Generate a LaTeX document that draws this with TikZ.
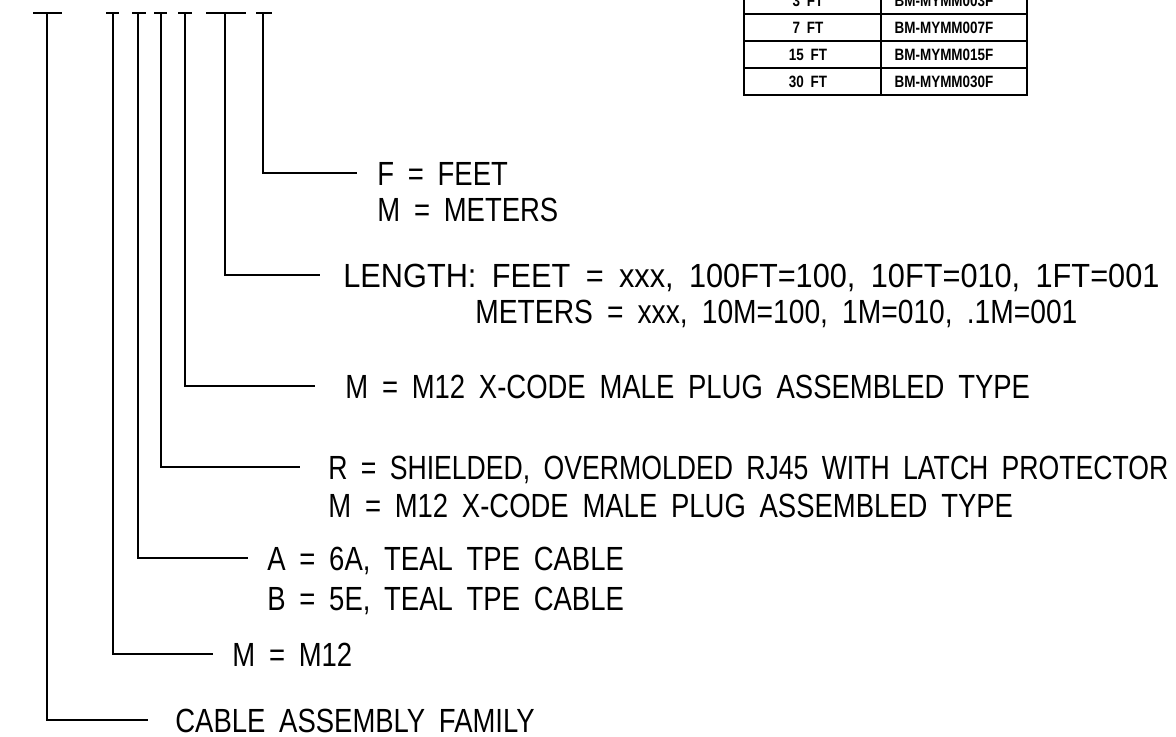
\documentclass[tikz,border=0pt]{standalone}
\usepackage{fontspec}
\setmainfont{Liberation Sans}[FakeStretch=0.82, WordSpace=1.8]
\usepackage{graphicx}
\usepackage{tikz}
\usetikzlibrary{positioning}
\usetikzlibrary{calc}

% Zeile auf feste Breite bringen (Hoehe bleibt)
\newcommand{\fitto}[2]{\resizebox{#1}{\height}{#2}}

\begin{document}
\begin{tikzpicture}[x=0.5pt, y=-0.5pt,
    lead/.style={line width=1.1pt},
    lbl/.style={font=\fontsize{16.75}{20}\selectfont, inner sep=0pt, anchor=base west},
    cell/.style={font=\fontsize{8.2}{10}\selectfont\bfseries, inner sep=0pt}]
    \useasboundingbox (0,0) rectangle (1176,736);

    % Stege der Bestellnummer
    \foreach \n/\x/\a/\b/\y/\e in {1/47/33/62/720/148, 2/113/106/119/654/213,
        3/138/132/146/558/248, 4/161/154/167/467/300, 5/185/178/192/386/315,
        6/225/206/246/275/320, 7/263/256/272/173/357} {
      \draw[lead] (\a,13) -- (\b,13);
      \coordinate (t\n) at (\x,13);
      \coordinate (k\n) at (\x,\y);
      \coordinate (e\n) at (\e,\y);
      \draw[lead] (t\n) -- (k\n) -- (e\n);
    }

    % Beschriftungen
    \node[lbl] (fam) at (175,732) {CABLE ASSEMBLY FAMILY};
    \node[lbl] (m12) at (232,666) {M = M12};
    \node[lbl] (cabA) at (267,570) {A = 6A, TEAL TPE CABLE};
    \node[lbl] (cabB) at (267,610) {B = 5E, TEAL TPE CABLE};
    \node[lbl] (conR) at (328,479) {\fitto{420pt}{R = SHIELDED, OVERMOLDED RJ45 WITH LATCH PROTECTOR}};
    \node[lbl] (conM) at (328,517) {M = M12 X-CODE MALE PLUG ASSEMBLED TYPE};
    \node[lbl] (plug) at (345,398) {M = M12 X-CODE MALE PLUG ASSEMBLED TYPE};
    \node[lbl] (lenF) at (343,287) {\fitto{408pt}{LENGTH: FEET = xxx, 100FT=100, 10FT=010, 1FT=001}};
    \node[lbl] (lenM) at (475,323) {\fitto{301pt}{METERS = xxx, 10M=100, 1M=010, .1M=001}};
    \node[lbl] (unF) at (377,185) {F = FEET};
    \node[lbl] (unM) at (377,221) {M = METERS};

    % Tabelle
    \draw[line width=1.2pt] (744,-20) rectangle (1027,95);
    \draw[line width=1.2pt] (881,-20) -- (881,95);
    \foreach \y in {14,41,68} {
      \draw[line width=1.2pt] (744,\y) -- (1027,\y);
    }
    \foreach \r/\y/\len/\pn in {3/0.5/3 FT/BM-MYMM003F, 7/27.5/7 FT/BM-MYMM007F,
        15/54.5/15 FT/BM-MYMM015F, 30/81.5/30 FT/BM-MYMM030F} {
      \node[cell] (len\r) at (808,\y) {\len};
      \node[cell] (pn\r) at (944,\y) {\pn};
    }
\end{tikzpicture}
\end{document}
